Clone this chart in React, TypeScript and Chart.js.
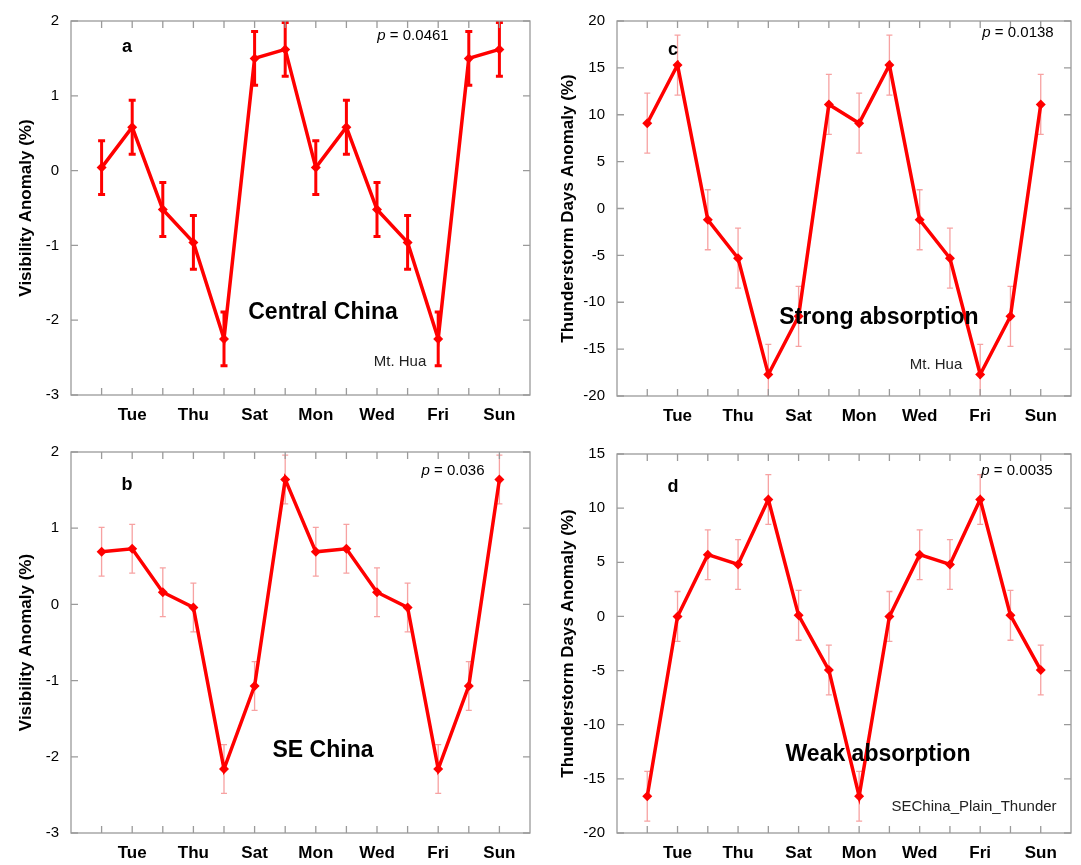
import React, { useEffect, useRef } from 'react';
import { Chart, registerables } from 'chart.js';
Chart.register(...registerables);

const FONT = '"Liberation Sans", Arial, Helvetica, sans-serif';

const dayNames = ['Mon', 'Tue', 'Wed', 'Thu', 'Fri', 'Sat', 'Sun', 'Mon', 'Tue', 'Wed', 'Thu', 'Fri', 'Sat', 'Sun'];
const dayIndex = [0, 1, 2, 3, 4, 5, 6, 7, 8, 9, 10, 11, 12, 13];

// a: Central China visibility anomaly
const visCentral = [0.04, 0.58, -0.52, -0.96, -2.25, 1.50, 1.62, 0.04, 0.58, -0.52, -0.96, -2.25, 1.50, 1.62];
const visCentralErr = [0.36, 0.36, 0.36, 0.36, 0.36, 0.36, 0.36, 0.36, 0.36, 0.36, 0.36, 0.36, 0.36, 0.36];
// b: SE China visibility anomaly
const visSE = [0.69, 0.73, 0.16, -0.04, -2.16, -1.07, 1.64, 0.69, 0.73, 0.16, -0.04, -2.16, -1.07, 1.64];
const visSEErr = [0.32, 0.32, 0.32, 0.32, 0.32, 0.32, 0.32, 0.32, 0.32, 0.32, 0.32, 0.32, 0.32, 0.32];
// c: strong absorption thunderstorm days anomaly
const thunderStrong = [9.1, 15.3, -1.2, -5.3, -17.7, -11.5, 11.1, 9.1, 15.3, -1.2, -5.3, -17.7, -11.5, 11.1];
const thunderStrongErr = [3.2, 3.2, 3.2, 3.2, 3.2, 3.2, 3.2, 3.2, 3.2, 3.2, 3.2, 3.2, 3.2, 3.2];
// d: weak absorption thunderstorm days anomaly
const thunderWeak = [-16.6, 0.0, 5.7, 4.8, 10.8, 0.1, -4.95, -16.6, 0.0, 5.7, 4.8, 10.8, 0.1, -4.95];
const thunderWeakErr = [2.3, 2.3, 2.3, 2.3, 2.3, 2.3, 2.3, 2.3, 2.3, 2.3, 2.3, 2.3, 2.3, 2.3];

type PanelCfg = {
  left: number; top: number; w: number; h: number;
  axisW: number; padTop: number; padRight: number; axisH: number; titlePad: number;
  values: number[]; errs: number[];
  yMin: number; yMax: number; yStep: number; yTitle: string;
  letter: string; letterPos: [number, number];
  pText: string; pPos: [number, number];
  region: string; regionPos: [number, number];
  note?: string; notePos?: [number, number];
  thickErr: boolean;
};

const panels: PanelCfg[] = [
  {
    left: 0, top: 0, w: 540, h: 430, axisW: 71, padTop: 15, padRight: 9, axisH: 35, titlePad: 16,
    values: visCentral, errs: visCentralErr, yMin: -3, yMax: 2, yStep: 1, yTitle: 'Visibility Anomaly (%)',
    letter: 'a', letterPos: [127, 47], pText: '0.0461', pPos: [413, 36],
    region: 'Central China', regionPos: [323, 313], note: 'Mt. Hua', notePos: [400, 362], thickErr: true,
  },
  {
    left: 540, top: 0, w: 541, h: 430, axisW: 77, padTop: 17, padRight: 7, axisH: 34, titlePad: 18,
    values: thunderStrong, errs: thunderStrongErr, yMin: -20, yMax: 20, yStep: 5, yTitle: 'Thunderstorm Days Anomaly (%)',
    letter: 'c', letterPos: [133, 50], pText: '0.0138', pPos: [478, 33],
    region: 'Strong absorption', regionPos: [339, 318], note: 'Mt. Hua', notePos: [396, 365], thickErr: false,
  },
  {
    left: 0, top: 430, w: 540, h: 435, axisW: 71, padTop: 22, padRight: 9, axisH: 32, titlePad: 16,
    values: visSE, errs: visSEErr, yMin: -3, yMax: 2, yStep: 1, yTitle: 'Visibility Anomaly (%)',
    letter: 'b', letterPos: [127, 55], pText: '0.036', pPos: [453, 41],
    region: 'SE China', regionPos: [323, 321], thickErr: false,
  },
  {
    left: 540, top: 430, w: 541, h: 435, axisW: 77, padTop: 24, padRight: 7, axisH: 32, titlePad: 18,
    values: thunderWeak, errs: thunderWeakErr, yMin: -20, yMax: 15, yStep: 5, yTitle: 'Thunderstorm Days Anomaly (%)',
    letter: 'd', letterPos: [133, 57], pText: '0.0035', pPos: [477, 41],
    region: 'Weak absorption', regionPos: [338, 325], note: 'SEChina_Plain_Thunder', notePos: [434, 377], thickErr: false,
  },
];

function Panel({ cfg }: { cfg: PanelCfg }) {
  const ref = useRef<HTMLCanvasElement | null>(null);
  useEffect(() => {
    if (!ref.current) return;
    const decor = {
      id: 'decor',
      beforeDatasetsDraw(chart: any) {
        const { ctx, chartArea: ca, scales } = chart;
        const xs = scales.x, ys = scales.y;
        // error bars
        ctx.save();
        ctx.beginPath();
        ctx.rect(ca.left, ca.top, ca.right - ca.left, ca.bottom - ca.top);
        ctx.clip();
        ctx.strokeStyle = cfg.thickErr ? '#ff0000' : 'rgba(240,70,70,0.5)';
        ctx.lineWidth = cfg.thickErr ? 3 : 1.3;
        const cap = cfg.thickErr ? 3.5 : 3;
        cfg.values.forEach((v, i) => {
          const x = xs.getPixelForValue(dayIndex[i]);
          const y1 = ys.getPixelForValue(v + cfg.errs[i]);
          const y2 = ys.getPixelForValue(v - cfg.errs[i]);
          ctx.beginPath();
          ctx.moveTo(x, y1); ctx.lineTo(x, y2);
          ctx.moveTo(x - cap, y1); ctx.lineTo(x + cap, y1);
          ctx.moveTo(x - cap, y2); ctx.lineTo(x + cap, y2);
          ctx.stroke();
        });
        ctx.restore();
      },
      afterDraw(chart: any) {
        const { ctx, chartArea: ca, scales } = chart;
        const xs = scales.x, ys = scales.y;
        ctx.save();
        ctx.strokeStyle = '#9a9a9a';
        ctx.lineWidth = 1.3;
        ctx.strokeRect(ca.left, ca.top, ca.right - ca.left, ca.bottom - ca.top);
        const tl = 7;
        ctx.beginPath();
        dayIndex.forEach((d) => {
          const x = xs.getPixelForValue(d);
          ctx.moveTo(x, ca.bottom); ctx.lineTo(x, ca.bottom - tl);
          ctx.moveTo(x, ca.top); ctx.lineTo(x, ca.top + tl);
        });
        ys.ticks.forEach((t: any) => {
          const y = ys.getPixelForValue(t.value);
          ctx.moveTo(ca.left, y); ctx.lineTo(ca.left + tl, y);
          ctx.moveTo(ca.right, y); ctx.lineTo(ca.right - tl, y);
        });
        ctx.stroke();

        ctx.fillStyle = '#000';
        ctx.textBaseline = 'middle';
        ctx.textAlign = 'center';
        ctx.font = `bold 18px ${FONT}`;
        ctx.fillText(cfg.letter, cfg.letterPos[0], cfg.letterPos[1]);
        ctx.font = `bold 23px ${FONT}`;
        ctx.fillText(cfg.region, cfg.regionPos[0], cfg.regionPos[1]);
        if (cfg.note && cfg.notePos) {
          ctx.font = `15px ${FONT}`;
          ctx.fillStyle = '#222';
          ctx.fillText(cfg.note, cfg.notePos[0], cfg.notePos[1]);
        }
        // p value
        ctx.fillStyle = '#000';
        ctx.textAlign = 'left';
        ctx.font = `italic 15px ${FONT}`;
        const pw = ctx.measureText('p').width;
        ctx.font = `15px ${FONT}`;
        const rest = ' = ' + cfg.pText;
        const rw = ctx.measureText(rest).width;
        const x0 = cfg.pPos[0] - (pw + rw) / 2;
        ctx.font = `italic 15px ${FONT}`;
        ctx.fillText('p', x0, cfg.pPos[1]);
        ctx.font = `15px ${FONT}`;
        ctx.fillText(rest, x0 + pw, cfg.pPos[1]);
        ctx.restore();
      },
    };

    const chart = new Chart(ref.current, {
      type: 'line',
      data: {
        datasets: [{
          data: cfg.values.map((v, i) => ({ x: dayIndex[i], y: v })),
          borderColor: '#ff0000',
          backgroundColor: '#ff0000',
          borderWidth: 3.5,
          pointStyle: 'rectRot',
          pointRadius: 5,
          pointBorderWidth: 0,
          tension: 0,
          clip: false as any,
        }],
      },
      options: {
        animation: false,
        responsive: false,
        maintainAspectRatio: false,
        layout: { padding: { top: cfg.padTop, right: cfg.padRight, left: 0, bottom: 0 } },
        plugins: { legend: { display: false }, tooltip: { enabled: false } },
        scales: {
          x: {
            type: 'linear', min: -1, max: 14,
            grid: { display: false, drawTicks: false },
            border: { display: false },
            ticks: {
              stepSize: 1, autoSkip: false, maxRotation: 0, padding: 10, color: '#000',
              font: { family: FONT, size: 17, weight: 'bold' },
              callback: (v: any) => {
                const n = Math.round(Number(v));
                return n >= 0 && n <= 13 && n % 2 === 1 ? dayNames[n] : '';
              },
            },
            afterFit: (s: any) => { s.height = cfg.axisH; },
          },
          y: {
            min: cfg.yMin, max: cfg.yMax,
            grid: { display: false, drawTicks: false },
            border: { display: false },
            ticks: { stepSize: cfg.yStep, padding: 12, color: '#000', font: { family: FONT, size: 15 } },
            title: {
              display: true, text: cfg.yTitle, color: '#000',
              font: { family: FONT, size: 17, weight: 'bold' },
              padding: { top: cfg.titlePad, bottom: 0 },
            },
            afterFit: (s: any) => { s.width = cfg.axisW; },
          },
        },
      } as any,
      plugins: [decor],
    });
    return () => chart.destroy();
  }, [cfg]);
  return (
    <div style={{ position: 'absolute', left: cfg.left, top: cfg.top, width: cfg.w, height: cfg.h }}>
      <canvas ref={ref} width={cfg.w} height={cfg.h} style={{ display: 'block' }} />
    </div>
  );
}

export default function App() {
  return (
    <div style={{ position: 'absolute', left: 0, top: 0, width: 1081, height: 865, background: '#fff', overflow: 'hidden' }}>
      {panels.map((p, i) => <Panel key={i} cfg={p} />)}
    </div>
  );
}
